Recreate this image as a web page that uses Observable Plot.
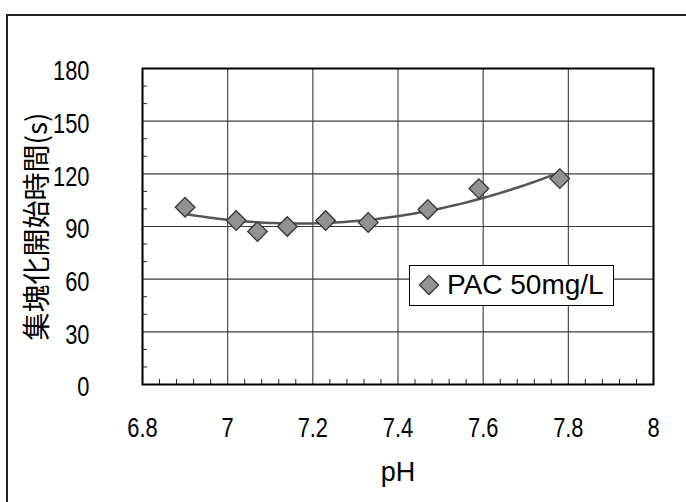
<!DOCTYPE html>
<html><head><meta charset="utf-8">
<script src="https://cdn.jsdelivr.net/npm/d3@7"></script>
<script src="https://cdn.jsdelivr.net/npm/@observablehq/plot@0.6"></script>
<style>
html,body{margin:0;padding:0;background:#fff;overflow:hidden}
#wrap{position:relative;width:686px;height:502px;background:#fff}
#border{position:absolute;left:6px;top:14px;width:800px;height:600px;border-left:2px solid #222;border-top:2px solid #222;box-sizing:border-box}
#chart{position:absolute;left:0;top:0}
#legend{position:absolute;left:409px;top:265px;width:205px;height:41px;box-sizing:border-box;border:1.5px solid #000;background:#fff}
#legend svg{position:absolute;left:0;top:0}
#legend span{position:absolute;left:37px;top:3px;font-family:'Liberation Sans',Arial,sans-serif;font-size:28px;line-height:32px;color:#000;white-space:nowrap}
</style></head>
<body><div id="wrap"><div id="border"></div><div id="chart"></div><div id="legend"></div></div>
<script>
// ---- data ----
const pH = [6.9, 7.02, 7.07, 7.14, 7.23, 7.33, 7.47, 7.59, 7.78];
const onsetTime = [101, 93.4, 87.1, 90, 93.4, 92.3, 99.7, 111.6, 117.3];
const xTicks = [6.8, 7, 7.2, 7.4, 7.6, 7.8, 8];
const yTicks = [0, 30, 60, 90, 120, 150, 180];
const xLabel = "pH";
const yLabel = "集塊化開始時間(s)";
const seriesName = "PAC 50mg/L";

const data = pH.map((p, i) => ({pH: p, time: onsetTime[i]}));

// minor ticks (4 between x majors, every 10 on y)
const minorX = [];
for (let i = 0; i < xTicks.length - 1; i++) {
  const a = xTicks[i], b = xTicks[i + 1];
  for (let k = 1; k < 5; k++) minorX.push(a + (b - a) * k / 5);
}
const minorY = [];
for (let i = 0; i < yTicks.length - 1; i++) {
  const a = yTicks[i], b = yTicks[i + 1];
  for (let k = 1; k < 3; k++) minorY.push(a + (b - a) * k / 3);
}

// quadratic least-squares trend line fitted to the data
function polyfit(xs, ys, deg) {
  const m = d3.mean(xs);
  const n = deg + 1;
  const A = Array.from({length: n}, () => new Array(n + 1).fill(0));
  xs.forEach((x0, idx) => {
    const x = x0 - m;
    for (let r = 0; r < n; r++) {
      for (let c = 0; c < n; c++) A[r][c] += Math.pow(x, r + c);
      A[r][n] += ys[idx] * Math.pow(x, r);
    }
  });
  for (let i = 0; i < n; i++) {
    let p = i;
    for (let r = i + 1; r < n; r++) if (Math.abs(A[r][i]) > Math.abs(A[p][i])) p = r;
    [A[i], A[p]] = [A[p], A[i]];
    for (let r = 0; r < n; r++) {
      if (r === i) continue;
      const f = A[r][i] / A[i][i];
      for (let c = i; c <= n; c++) A[r][c] -= f * A[i][c];
    }
  }
  const coef = A.map((row, i) => row[n] / row[i]);
  return x => coef.reduce((s, c, i) => s + c * Math.pow(x - m, i), 0);
}
const fit = polyfit(pH, onsetTime, 2);
const [xmin, xmax] = d3.extent(pH);
const trend = d3.range(0, 81).map(i => {
  const x = xmin + (xmax - xmin) * i / 80;
  return {pH: x, time: fit(x)};
});

const W = 686, H = 502;
const mL = 142, mR = 33, mT = 68, mB = 118;
const frameW = W - mL - mR, frameH = H - mT - mB;
const font = "'Liberation Sans',Arial,sans-serif";

const plot = Plot.plot({
  width: W, height: H,
  marginLeft: mL, marginRight: mR, marginTop: mT, marginBottom: mB,
  style: {background: "transparent", fontFamily: font, fontSize: "28px", color: "#000"},
  x: {domain: [6.8, 8], axis: null},
  y: {domain: [0, 180], axis: null},
  marks: [
    Plot.gridX(xTicks, {stroke: "#3a3a3a", strokeOpacity: 1, strokeWidth: 1.1}),
    Plot.gridY(yTicks, {stroke: "#3a3a3a", strokeOpacity: 1, strokeWidth: 1.1}),
    Plot.tickX(minorX, {x: d => d, stroke: "#222", strokeWidth: 1, insetTop: frameH - 5}),
    Plot.tickY(minorY, {y: d => d, stroke: "#222", strokeWidth: 1, insetRight: frameW - 5}),
    Plot.frame({stroke: "#000", strokeWidth: 2}),
    Plot.line(trend, {x: "pH", y: "time", stroke: "#555", strokeWidth: 2.5}),
    Plot.dot(data, {x: "pH", y: "time", symbol: "square", rotate: 45, r: 7.8, fill: "#929292", stroke: "#333", strokeWidth: 1.3}),
    // x tick labels
    Plot.text(xTicks, {x: d => d, frameAnchor: "bottom", dy: 44, lineAnchor: "middle", text: d => String(d), fontSize: 28, fill: "#000", className: "ticklab"}),
    // y tick labels
    Plot.text(yTicks, {y: d => d, frameAnchor: "left", textAnchor: "end", dx: -53, dy: 3, text: d => String(d), fontSize: 28, fill: "#000", className: "ticklab"}),
    Plot.text([xLabel], {frameAnchor: "bottom", dy: 88, lineAnchor: "middle", fontSize: 27, fill: "#000"}),
    Plot.text([yLabel], {frameAnchor: "left", textAnchor: "middle", rotate: -90, dx: -104, fontSize: 28, fontFamily: "'Noto Sans CJK JP',sans-serif", fill: "#000"})
  ]
});
document.getElementById("chart").appendChild(plot);

// condense the tick labels (the original uses a narrow face)
plot.querySelectorAll(".ticklab text").forEach(t => {
  const len = t.getComputedTextLength();
  t.setAttribute("textLength", (len * 0.78).toFixed(2));
  t.setAttribute("lengthAdjust", "spacingAndGlyphs");
});

// legend
const leg = document.getElementById("legend");
const s = 9.6;
leg.innerHTML = `<svg width="40" height="38"><polygon points="${19},${19 - s} ${19 + s},${19} ${19},${19 + s} ${19 - s},${19}" fill="#929292" stroke="#333" stroke-width="1.3"/></svg><span></span>`;
leg.querySelector("span").textContent = seriesName;
</script>
</body></html>
